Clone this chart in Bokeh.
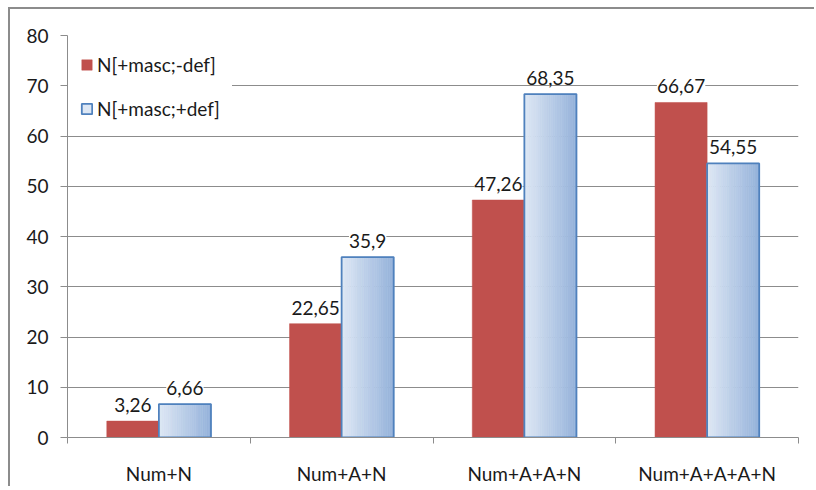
from bokeh.plotting import figure
from bokeh.models import (ColumnDataSource, Range1d, FixedTicker, LabelSet,
                          Legend, LegendItem)
from bokeh.core.properties import value
from bokeh.embed import file_html
from bokeh.resources import INLINE

categories = ["Num+N", "Num+A+N", "Num+A+A+N", "Num+A+A+A+N"]
series_names = ["N[+masc;-def]", "N[+masc;+def]"]
red_values = [3.26, 22.65, 47.26, 66.67]
blue_values = [6.66, 35.9, 68.35, 54.55]
y_ticks = [0, 10, 20, 30, 40, 50, 60, 70, 80]

FONT = "Lato"
FS = "19px"
TXT = "#1a1a1a"
RED = "#c0504d"
BLUE_LINE = "#4f81bd"
GRID = "#8c8c8c"
BW = 0.285
NSTRIP = 24
C0 = (221, 231, 244)
C1 = (150, 179, 219)


def fmt(v):
    return f"{v:g}".replace(".", ",")


centers = [i + 0.5 for i in range(len(categories))]
red_x = [c - BW / 2 for c in centers]
blue_x = [c + BW / 2 for c in centers]

p = figure(width=806, height=479, output_backend="svg", toolbar_location=None,
           x_range=Range1d(0, len(categories)), y_range=Range1d(0, 80),
           min_border_left=57, min_border_top=26, min_border_right=18,
           min_border_bottom=51)
p.styles = {"margin-left": "10px", "margin-top": "9px",
            "box-shadow": "-2px -2px 0 0 #8c8c8c"}
p.outline_line_color = None
p.background_fill_color = "white"
p.border_fill_color = "white"

# grid
p.xgrid.grid_line_color = None
p.ygrid.grid_line_color = GRID
p.ygrid.grid_line_width = 1

# red bars
red_src = ColumnDataSource(dict(x=red_x, top=red_values))
r_red = p.vbar(x="x", top="top", width=BW, bottom=0, source=red_src,
               fill_color=RED, line_color=RED, line_width=0.5)

# blue bars with horizontal gradient made of strips
sx, stop, scol = [], [], []
for bx, v in zip(blue_x, blue_values):
    left = bx - BW / 2
    for k in range(NSTRIP):
        t = k / (NSTRIP - 1)
        col = tuple(int(round(a + (b - a) * t)) for a, b in zip(C0, C1))
        sx.append(left + (k + 0.5) * BW / NSTRIP)
        stop.append(v)
        scol.append("#%02x%02x%02x" % col)
strip_src = ColumnDataSource(dict(x=sx, top=stop, color=scol))
r_strips = p.vbar(x="x", top="top", width=BW / NSTRIP, bottom=0, source=strip_src,
                  fill_color="color", line_color="color", line_width=0.6)
blue_src = ColumnDataSource(dict(x=blue_x, top=blue_values))
r_blue = p.vbar(x="x", top="top", width=BW, bottom=0, source=blue_src,
                fill_alpha=0, line_color=BLUE_LINE, line_width=1.8)

# data labels
lab_src = ColumnDataSource(dict(
    x=red_x + blue_x,
    y=red_values + blue_values,
    text=[fmt(v) for v in red_values] + [fmt(v) for v in blue_values]))
lab_kwargs = dict(x="x", y="y", text="text", source=lab_src,
                  text_align="center", text_baseline="middle", y_offset=16,
                  text_font=value(FONT), text_font_size=value(FS),
                  text_color=TXT, background_fill_color="white")
if "padding" in LabelSet.properties():
    lab_kwargs["padding"] = 4
p.add_layout(LabelSet(**lab_kwargs))

# axes
p.yaxis.ticker = FixedTicker(ticks=y_ticks)
p.yaxis.axis_line_color = GRID
p.yaxis.major_tick_line_color = GRID
p.yaxis.major_tick_out = 7
p.yaxis.major_tick_in = 0
p.yaxis.minor_tick_line_color = None
p.yaxis.major_label_standoff = 12
p.yaxis.major_label_text_font = FONT
p.yaxis.major_label_text_font_size = FS
p.yaxis.major_label_text_color = TXT

p.xaxis.ticker = FixedTicker(ticks=centers,
                             minor_ticks=list(range(len(categories) + 1)))
p.xaxis.major_label_overrides = {c: name for c, name in zip(centers, categories)}
p.xaxis.axis_line_color = GRID
p.xaxis.major_tick_line_color = None
p.xaxis.major_tick_out = 0
p.xaxis.major_tick_in = 0
p.xaxis.minor_tick_line_color = GRID
p.xaxis.minor_tick_out = 6
p.xaxis.minor_tick_in = 0
p.xaxis.major_label_standoff = 18
p.xaxis.major_label_text_font = FONT
p.xaxis.major_label_text_font_size = FS
p.xaxis.major_label_text_color = TXT

# legend
legend = Legend(items=[LegendItem(label=series_names[0], renderers=[r_red]),
                       LegendItem(label=series_names[1], renderers=[r_strips, r_blue])],
                location=(1, 305), orientation="vertical",
                glyph_width=13, glyph_height=13, label_height=20, spacing=21,
                padding=12, margin=0, label_standoff=4,
                label_text_font=FONT, label_text_font_size=FS,
                label_text_color=TXT,
                border_line_alpha=0, background_fill_color="white",
                background_fill_alpha=1)
p.add_layout(legend)

open("out.html", "w").write(file_html(p, INLINE))
